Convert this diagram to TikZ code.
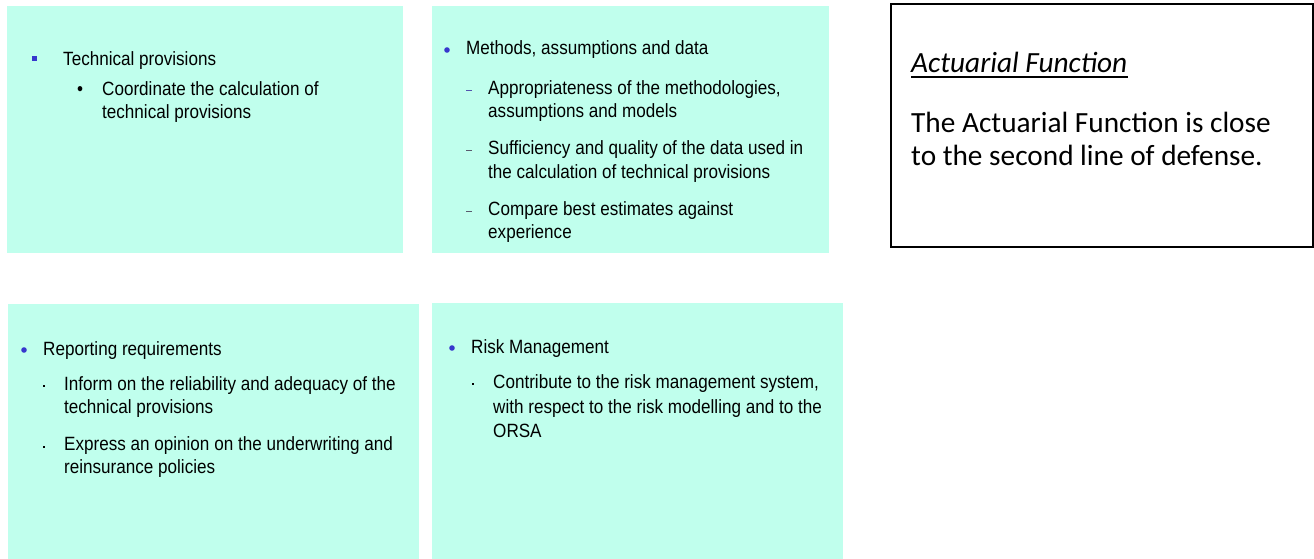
\documentclass[tikz,border=0pt]{standalone}
\usepackage{fontspec}
\setmainfont{Liberation Sans}
\newfontfamily\boxfont{Liberation Sans}[FakeStretch=0.89]
\newfontfamily\califont{Carlito}
\definecolor{aqua}{RGB}{192,255,237}
\definecolor{bulblue}{RGB}{55,55,205}
\definecolor{dashgray}{RGB}{90,90,110}
\begin{document}
\begin{tikzpicture}[x=1pt,y=-1pt,
  panel/.style={fill=aqua,draw=none},
  txt/.style={anchor=base west,inner sep=0pt,font=\boxfont\fontsize{19.2}{23}\selectfont},
  cal/.style={anchor=base west,inner sep=0pt,font=\califont\fontsize{29.3}{33}\selectfont},
  dotbul/.style={fill=bulblue},
  subdot/.style={fill=black}]
\useasboundingbox (0,0) rectangle (1314,559);
% panels
\fill[panel] (7,6) rectangle (403,253);
\fill[panel] (432,6) rectangle (829,253);
\fill[panel] (8,304) rectangle (419,559);
\fill[panel] (432,303) rectangle (843,559);
\draw[line width=1.5pt] (891,4) rectangle (1313,247);
% box 1
\fill[bulblue] (31.5,56.5) rectangle (36.5,61.5);
\node[txt] (t1) at (63,65.5) {Technical provisions};
\node[txt] (t1b) at (77,95.5) {•};
\node[txt] (t1a) at (102,95.5) {Coordinate the calculation of};
\node[txt] (t1c) at (102,119) {technical provisions};
% box 2
\fill[dotbul] (447,50) circle (2.8);
\node[txt] (t2) at (466,55) {Methods, assumptions and data};
\draw[bulblue!60!gray,line width=1pt] (466,91) -- (472,91);
\node[txt] (t2a) at (488,95) {Appropriateness of the methodologies,};
\node[txt] (t2b) at (488,118) {assumptions and models};
\draw[dashgray,line width=1pt] (466,150) -- (472,150);
\node[txt] (t2c) at (488,154) {Sufficiency and quality of the data used in};
\node[txt] (t2d) at (488,178) {the calculation of technical provisions};
\draw[dashgray,line width=1pt] (466,211) -- (472,211);
\node[txt] (t2e) at (488,215) {Compare best estimates against};
\node[txt] (t2f) at (488,238) {experience};
% box 3
\fill[dotbul] (24,350) circle (2.8);
\node[txt] (t3) at (43,355) {Reporting requirements};
\fill[subdot] (43,384.7) rectangle (45,386.7);
\node[txt] (t3a) at (64,390) {Inform on the reliability and adequacy of the};
\node[txt] (t3b) at (64,413) {technical provisions};
\fill[subdot] (43,445.7) rectangle (45,447.7);
\node[txt] (t3c) at (64,450) {Express an opinion on the underwriting and};
\node[txt] (t3d) at (64,473) {reinsurance policies};
% box 4
\fill[dotbul] (452,348) circle (2.8);
\node[txt] (t4) at (471,353) {Risk Management};
\fill[subdot] (472,383) rectangle (474,385);
\node[txt] (t4a) at (493,388) {Contribute to the risk management system,};
\node[txt] (t4b) at (493,413) {with respect to the risk modelling and to the};
\node[txt] (t4c) at (493,437) {ORSA};
% box 5
\node[cal] (h5) at (911,73) {\itshape Actuarial Function};
\draw[line width=1.1pt] (h5.base west) ++(0,4) -- ([yshift=-4pt]h5.base east);
\node[cal] (t5a) at (911,132) {The Actuarial Function is close};
\node[cal] (t5b) at (911,165) {to the second line of defense.};
\end{tikzpicture}
\end{document}
